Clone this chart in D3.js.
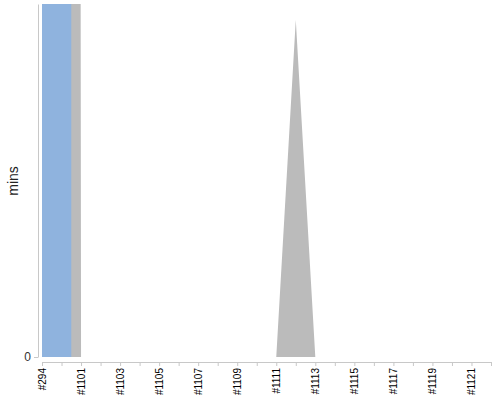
<!DOCTYPE html>
<html>
<head>
<meta charset="utf-8">
<script src="https://cdn.jsdelivr.net/npm/d3@7"></script>
<style>
  body { margin: 0; background: #fff; }
  #chart { width: 500px; height: 400px; }
</style>
</head>
<body>
<div id="chart"></div>
<script>
// categories (build ids)
var builds = ["#294", "#1100", "#1101", "#1102", "#1103", "#1104", "#1105", "#1106",
  "#1107", "#1108", "#1109", "#1110", "#1111", "#1112", "#1113", "#1114",
  "#1115", "#1116", "#1117", "#1118", "#1119", "#1120", "#1121", "#1122"];

// series values in mins (first builds run far above the visible range)
var totalMins = [5000, 5000, 0, 0, 0, 0, 0, 0, 0, 0, 0, 0, 0, 95.5, 0, 0, 0, 0, 0, 0, 0, 0, 0, 0];
var selectedMins = [5000, 5000, 0, 0, 0, 0, 0, 0, 0, 0, 0, 0, 0, 0, 0, 0, 0, 0, 0, 0, 0, 0, 0, 0];

var yTicks = [0];
var yMax = 100;

// set the dimensions of the graph
var plot = {left: 42, right: 491, top: 4, bottom: 357, axisY: 362, yAxisX: 38};

var svg = d3.select("#chart")
  .append("svg")
  .attr("width", 500)
  .attr("height", 400);

var x = d3.scalePoint()
  .domain(builds)
  .range([plot.left, plot.right]);

var y = d3.scaleLinear()
  .domain([0, yMax])
  .range([plot.bottom, plot.top]);

// clip to the plot area
svg.append("clipPath")
  .attr("id", "plotClip")
  .append("rect")
  .attr("x", plot.left)
  .attr("y", plot.top)
  .attr("width", plot.right - plot.left)
  .attr("height", plot.bottom - plot.top);

var areas = svg.append("g").attr("clip-path", "url(#plotClip)");

// grey series
var totalArea = d3.area()
  .x(function(d, i) { return x(builds[i]); })
  .y0(y(0))
  .y1(function(d) { return y(d); });

areas.append("path")
  .datum(totalMins)
  .attr("d", totalArea)
  .attr("fill", "#bbbbbb");

// blue series
var selectedArea = d3.area()
  .curve(d3.curveStep)
  .x(function(d, i) { return x(builds[i]); })
  .y0(y(0))
  .y1(function(d) { return y(d); });

areas.append("path")
  .datum(selectedMins)
  .attr("d", selectedArea)
  .attr("fill", "#8fb3de");

// Y axis
var yAxis = svg.append("g")
  .attr("transform", "translate(" + plot.yAxisX + ",0)")
  .call(d3.axisLeft(y).tickValues(yTicks).tickSize(4).tickSizeOuter(0));
yAxis.select(".domain").attr("stroke", "#c8c8c8");
yAxis.selectAll(".tick line").attr("stroke", "#c8c8c8");
yAxis.selectAll("text")
  .attr("x", -7)
  .style("font-family", "Liberation Sans, Arial, sans-serif")
  .style("font-size", "12px")
  .attr("fill", "#333");

// X axis
var xAxis = svg.append("g")
  .attr("transform", "translate(0," + plot.axisY + ")")
  .call(d3.axisBottom(x).tickSize(4).tickSizeOuter(0)
    .tickFormat(function(d, i) { return i % 2 === 0 ? d : ""; }));
xAxis.select(".domain").attr("stroke", "#c8c8c8");
xAxis.selectAll(".tick line").attr("stroke", "#c8c8c8");
xAxis.selectAll("text")
  .attr("transform", "rotate(-90)")
  .attr("x", -6)
  .attr("y", 0)
  .attr("dy", "0.35em")
  .style("text-anchor", "end")
  .style("font-family", "Liberation Sans, Arial, sans-serif")
  .style("font-size", "10px")
  .attr("fill", "#000");

// Y label
svg.append("text")
  .attr("text-anchor", "middle")
  .attr("transform", "translate(18,181)rotate(-90)")
  .style("font-family", "Liberation Sans, Arial, sans-serif")
  .style("font-size", "14px")
  .attr("fill", "#222")
  .text("mins");
</script>
</body>
</html>
